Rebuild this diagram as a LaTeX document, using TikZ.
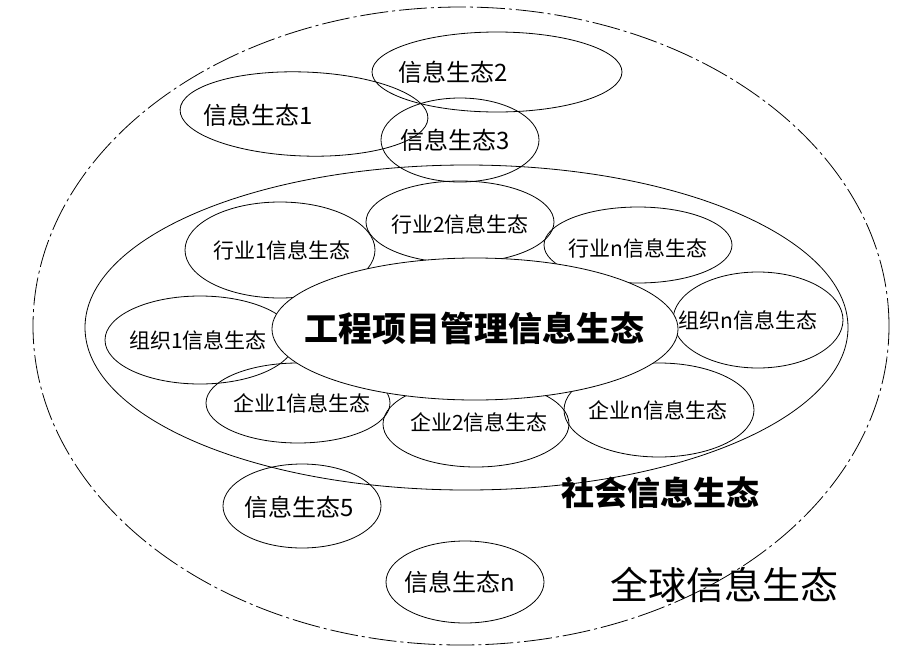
\documentclass[tikz,border=0pt]{standalone}
\usepackage{fontspec}
\newfontfamily\cjk{Noto Sans CJK SC}
\usetikzlibrary{shapes.geometric}
\tikzset{
  eco/.style={draw, ellipse, inner sep=0pt, line width=0.8pt},
  lblS/.style={font=\cjk\fontsize{21}{24}\selectfont, inner sep=0pt},
  lblM/.style={font=\cjk\fontsize{24}{28}\selectfont, inner sep=0pt},
  outerline/.style={draw, ellipse, inner sep=0pt, line width=0.8pt, dash pattern=on 28pt off 4pt on 3pt off 4pt},
}
\begin{document}
\begin{tikzpicture}[x=1pt,y=-1pt]
\useasboundingbox[fill=white] (0,0) rectangle (919,662);
% global and social ecosystems
\node[outerline, minimum width=856pt, minimum height=638pt] (global) at (461,326) {};
\node[eco, minimum width=763pt, minimum height=325pt] (social) at (466.5,327.5) {};
% information ecosystems
\node[eco, minimum width=248pt, minimum height=84pt, rotate=-2] (e1) at (304,114) {};
\node[eco, minimum width=250pt, minimum height=80pt] (e2) at (497,72) {};
\node[eco, minimum width=158pt, minimum height=84pt] (e3) at (460,140) {};
\node[eco, minimum width=158pt, minimum height=84pt] (e5) at (302,506) {};
\node[eco, minimum width=158pt, minimum height=82pt] (en) at (465,582) {};
% industries
\node[eco, minimum width=190pt, minimum height=96pt] (h1) at (280,250) {};
\node[eco, minimum width=188pt, minimum height=82pt] (h2) at (460,222) {};
\node[eco, minimum width=188pt, minimum height=76pt] (hn) at (638,245) {};
% organisations
\node[eco, minimum width=190pt, minimum height=88pt] (o1) at (200,340) {};
\node[eco, minimum width=170pt, minimum height=96pt] (on) at (758,320) {};
% enterprises
\node[eco, minimum width=184pt, minimum height=80pt] (q1) at (298,403) {};
\node[eco, minimum width=186pt, minimum height=86pt] (q2) at (476,424) {};
\node[eco, minimum width=190pt, minimum height=94pt] (qn) at (659,410) {};
% centre
\node[eco, fill=white, minimum width=406pt, minimum height=142pt] (core) at (475,329) {};
% labels
\node[lblM] (t1) at (258,115) {信息生态1};
\node[lblM] (t2) at (453,72) {信息生态2};
\node[lblM] (t3) at (455,140) {信息生态3};
\node[lblM] (t5) at (299,507) {信息生态5};
\node[lblM] (tn) at (460,582) {信息生态n};
\node[lblS] (th1) at (282,250) {行业1信息生态};
\node[lblS] (th2) at (460,224) {行业2信息生态};
\node[lblS] (thn) at (638,248) {行业n信息生态};
\node[lblS] (to1) at (198,340) {组织1信息生态};
\node[lblS] (ton) at (748,320) {组织n信息生态};
\node[lblS] (tq1) at (302,403) {企业1信息生态};
\node[lblS] (tq2) at (479,422) {企业2信息生态};
\node[lblS] (tqn) at (658,410) {企业n信息生态};
\node[font=\cjk\bfseries\fontsize{34}{38}\selectfont, inner sep=0pt] (tcore) at (474,328) {工程项目管理信息生态};
\node[font=\cjk\bfseries\fontsize{33}{36}\selectfont, inner sep=0pt] (tsocial) at (660,493) {社会信息生态};
\node[font=\cjk\fontsize{38}{42}\selectfont, inner sep=0pt] (tglobal) at (724,585) {全球信息生态};
\end{tikzpicture}
\end{document}
